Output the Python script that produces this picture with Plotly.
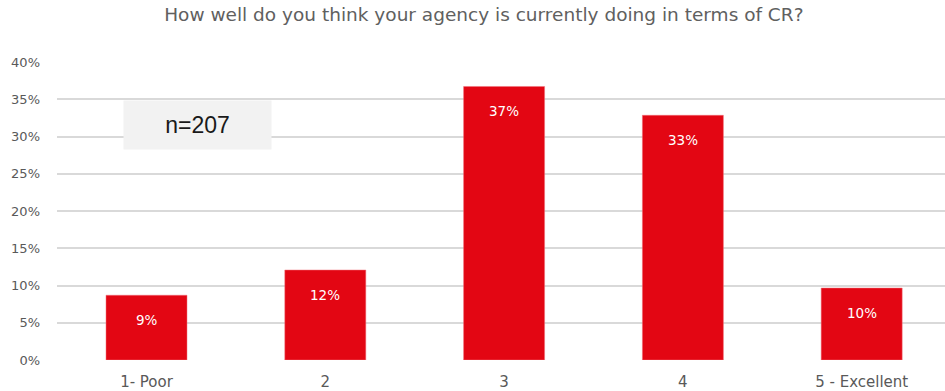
import plotly.graph_objects as go

# Survey responses: self-rated agency performance on CR (n = 207)
categories = ["1- Poor", "2", "3", "4", "5 - Excellent"]
counts = [18, 25, 76, 68, 20]
total = sum(counts)
shares = [c / total * 100 for c in counts]

y_ticks = [0, 5, 10, 15, 20, 25, 30, 35, 40]
y_tick_labels = [f"{t}%" for t in y_ticks]

RED = "#e30613"
GREY_TEXT = "#595959"
FONT = "DejaVu Sans"

fig = go.Figure(
    go.Bar(
        x=categories,
        y=shares,
        marker=dict(color=RED, line=dict(color="#f0707a", width=0.5)),
        hoverinfo="skip",
    )
)

# value labels just inside the top of each bar (positioned by category index)
for i, val in enumerate(shares):
    fig.add_annotation(
        x=i, y=val, xref="x", yref="y",
        text=f"{val:.0f}%", showarrow=False, yshift=-25,
        font=dict(family=FONT, size=13.5, color="white"),
    )

# sample size box
fig.add_annotation(
    x=0.158, y=0.789, xref="paper", yref="paper",
    xanchor="center", yanchor="middle",
    text="n=207", showarrow=False,
    width=145, height=46, bgcolor="#f2f2f2",
    font=dict(family="Liberation Sans, Arial", size=23, color="#1a1a1a"),
)

fig.update_layout(
    width=945, height=391,
    margin=dict(l=57, r=0, t=62, b=31),
    paper_bgcolor="white", plot_bgcolor="white",
    bargap=0.547,
    showlegend=False,
    title=dict(
        text="How well do you think your agency is currently doing in terms of CR?",
        x=0.512, xanchor="center", y=0.962, yanchor="middle",
        font=dict(family=FONT, size=18.5, color="#606060"),
    ),
    xaxis=dict(
        type="category",
        range=[-0.5006, 4.466],
        showgrid=False, showline=False, zeroline=False,
        tickfont=dict(family=FONT, size=15, color=GREY_TEXT),
        ticklabelstandoff=11,
    ),
    yaxis=dict(
        range=[0, 40], tickvals=y_ticks, ticktext=y_tick_labels,
        showgrid=True, gridcolor="#d9d9d9", gridwidth=1.5,
        zeroline=False, showline=False,
        tickfont=dict(family=FONT, size=13, color=GREY_TEXT),
        ticklabelstandoff=16,
    ),
)

fig.write_html("out.html")
